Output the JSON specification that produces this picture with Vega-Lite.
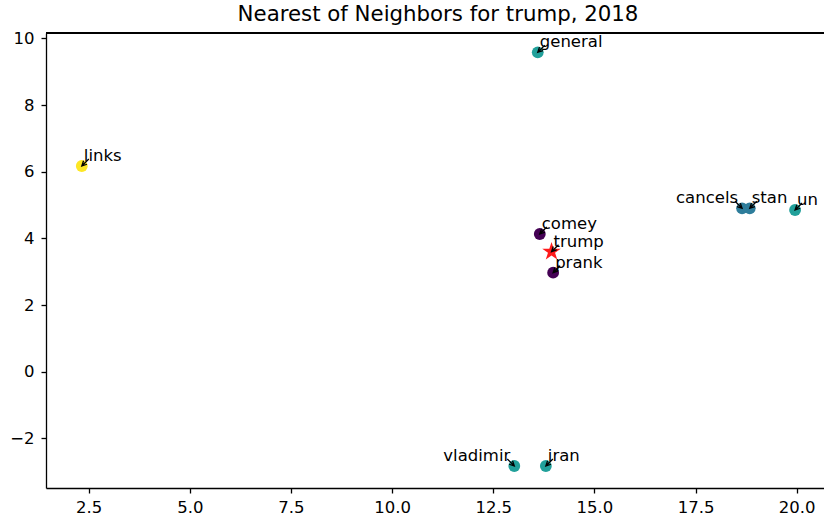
{
  "$schema": "https://vega.github.io/schema/vega-lite/v6.json",
  "width": 778,
  "height": 455,
  "autosize": {"type": "none"},
  "padding": {"left": 46, "top": 33, "right": 0, "bottom": 31},
  "background": "white",
  "config": {
    "font": "DejaVu Sans",
    "view": {"stroke": null},
    "axis": {
      "grid": false,
      "domainColor": "#000000",
      "domainWidth": 1.3,
      "tickColor": "#000000",
      "tickWidth": 1.3,
      "tickSize": 5,
      "labelFont": "DejaVu Sans",
      "labelFontSize": 16.5,
      "labelColor": "#000000"
    },
    "axisX": {"labelPadding": 6},
    "axisY": {"labelPadding": 7}
  },
  "title": {
    "text": "Nearest of Neighbors for trump, 2018",
    "font": "DejaVu Sans",
    "fontSize": 21.3,
    "fontWeight": "normal",
    "color": "#000000",
    "anchor": "middle",
    "offset": 5,
    "dx": 3
  },
  "data": {
    "values": [
      {"word": "links", "x": 2.33, "y": 6.17, "cluster": 3, "kind": "neighbor"},
      {"word": "general", "x": 13.6, "y": 9.58, "cluster": 2, "kind": "neighbor"},
      {"word": "comey", "x": 13.65, "y": 4.13, "cluster": 0, "kind": "neighbor"},
      {"word": "prank", "x": 13.98, "y": 2.97, "cluster": 0, "kind": "neighbor"},
      {"word": "cancels", "x": 18.65, "y": 4.9, "cluster": 1, "kind": "neighbor"},
      {"word": "stan", "x": 18.84, "y": 4.9, "cluster": 1, "kind": "neighbor"},
      {"word": "un", "x": 19.96, "y": 4.85, "cluster": 2, "kind": "neighbor"},
      {"word": "vladimir", "x": 13.02, "y": -2.83, "cluster": 2, "kind": "neighbor"},
      {"word": "iran", "x": 13.8, "y": -2.83, "cluster": 2, "kind": "neighbor"},
      {"word": "trump", "x": 13.94, "y": 3.6, "cluster": 4, "kind": "query"}
    ]
  },
  "encoding": {
    "x": {
      "field": "x", "type": "quantitative", "title": null,
      "scale": {"domain": [1.445, 20.675], "nice": false, "zero": false},
      "axis": {"values": [2.5, 5, 7.5, 10, 12.5, 15, 17.5, 20], "format": ".1f"}
    },
    "y": {
      "field": "y", "type": "quantitative", "title": null,
      "scale": {"domain": [-3.49, 10.16], "nice": false, "zero": false},
      "axis": {"values": [-2, 0, 2, 4, 6, 8, 10], "format": "d"}
    }
  },
  "layer": [
    {
      "mark": {"type": "rule", "color": "#000000", "strokeWidth": 1.3},
      "encoding": {"y": {"datum": 10.16}, "x": null}
    },
    {
      "transform": [{"filter": "datum.kind == 'neighbor'"}],
      "mark": {"type": "circle", "size": 140, "opacity": 1},
      "encoding": {
        "color": {
          "field": "cluster", "type": "ordinal",
          "scale": {"domain": [0, 1, 2, 3], "range": ["#440154", "#2e7d9b", "#21a09a", "#fde725"]},
          "legend": null
        }
      }
    },
    {
      "transform": [{"filter": "datum.kind == 'query'"}],
      "mark": {
        "type": "point",
        "shape": "M0,-1 L0.2245,-0.309 L0.951,-0.309 L0.363,0.118 L0.588,0.809 L0,0.382 L-0.588,0.809 L-0.363,0.118 L-0.951,-0.309 L-0.2245,-0.309 Z",
        "filled": true,
        "size": 380,
        "color": "#ff1a1a",
        "opacity": 1
      }
    },
    {
      "transform": [{"filter": "datum.word != 'cancels' && datum.word != 'vladimir'"}],
      "mark": {
        "type": "point",
        "shape": "M 1 -1 L 0 0 M 0.74 -0.25 L 0 0 L 0.25 -0.74",
        "filled": false,
        "stroke": "#000000",
        "strokeWidth": 1.3,
        "size": 196,
        "opacity": 1
      }
    },
    {
      "transform": [{"filter": "datum.word == 'cancels' || datum.word == 'vladimir'"}],
      "mark": {
        "type": "point",
        "shape": "M -1 -1 L 0 0 M -0.74 -0.25 L 0 0 L -0.25 -0.74",
        "filled": false,
        "stroke": "#000000",
        "strokeWidth": 1.3,
        "size": 196,
        "opacity": 1
      }
    },
    {
      "transform": [{"filter": "datum.word != 'cancels' && datum.word != 'vladimir'"}],
      "mark": {"type": "text", "align": "left", "baseline": "alphabetic", "dx": 2, "dy": -5, "fontSize": 16.5, "font": "DejaVu Sans", "color": "#000000"},
      "encoding": {"text": {"field": "word"}}
    },
    {
      "transform": [{"filter": "datum.word == 'cancels' || datum.word == 'vladimir'"}],
      "mark": {"type": "text", "align": "right", "baseline": "alphabetic", "dx": -4, "dy": -5, "fontSize": 16.5, "font": "DejaVu Sans", "color": "#000000"},
      "encoding": {"text": {"field": "word"}}
    }
  ]
}
